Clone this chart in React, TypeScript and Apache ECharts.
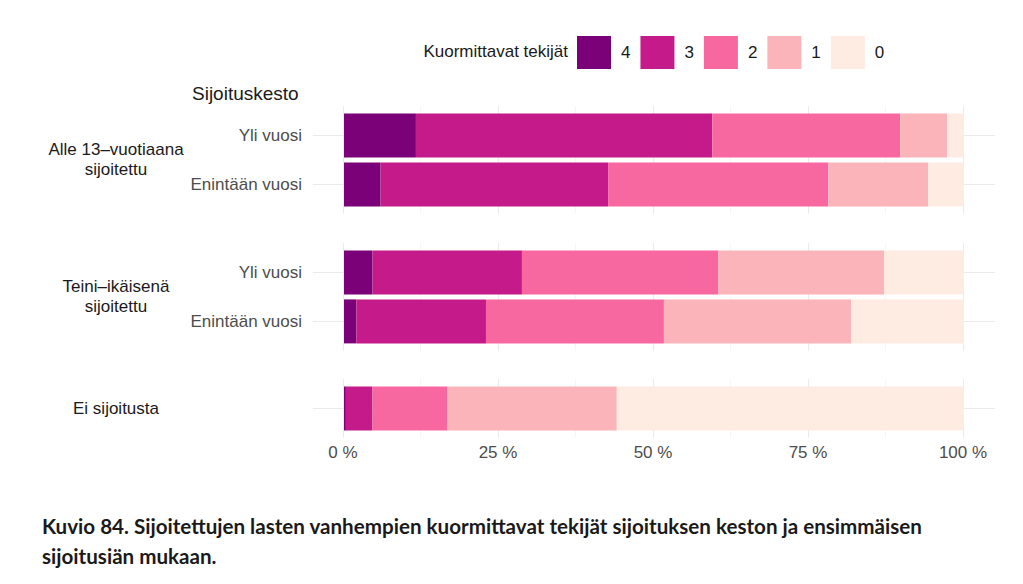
import React, { useEffect, useRef } from "react";
import * as echarts from "echarts";

// ---- data ----
const levels = ["4", "3", "2", "1", "0"];
const levelColors = ["#7a0177", "#c51b8a", "#f768a1", "#fbb4b9", "#feebe2"];
const groupLabels = ["Alle 13–vuotiaana\nsijoitettu", "Teini–ikäisenä\nsijoitettu", "Ei sijoitusta"];
const durations = ["Yli vuosi", "Enintään vuosi"];
// rows: [Alle13 Yli, Alle13 Enintään, Teini Yli, Teini Enintään, Ei sijoitusta]
const level4 = [11.6, 5.9, 4.6, 2.0, 0.3];
const level3 = [47.8, 36.7, 24.1, 20.9, 4.3];
const level2 = [30.3, 35.5, 31.7, 28.7, 12.1];
const level1 = [7.6, 16.1, 26.7, 30.2, 27.3];
const level0 = [2.7, 5.8, 12.9, 18.2, 56.0];
const xTicks = [0, 25, 50, 75, 100];
const legendTitle = "Kuormittavat tekijät";
const yTitle = "Sijoituskesto";
const caption =
  "Kuvio 84. Sijoitettujen lasten vanhempien kuormittavat tekijät sijoituksen keston ja ensimmäisen\nsijoitusiän mukaan.";

const levelValues = [level4, level3, level2, level1, level0];
// facet definition: rows of each facet
const facetRows = [[0, 1], [2, 3], [4]];
const facetCats = [durations, durations, ["Ei sijoitusta"]];

const FONT = "'Liberation Sans', Arial, Helvetica, sans-serif";
const FS = 17;

export default function App() {
  const ref = useRef<HTMLDivElement>(null);
  useEffect(() => {
    if (!ref.current) return;
    const chart = echarts.init(ref.current, null, { renderer: "svg" });

    const unit = 49;
    const panelTops = [106, 243, 379];
    const plotLeft = 343;
    const plotWidth = 620;

    const grids: any[] = [];
    const xAxes: any[] = [];
    const yAxes: any[] = [];
    const series: any[] = [];

    // panel grids (vertical grid lines)
    facetRows.forEach((rows, f) => {
      const h = (rows.length - 1 + 1.2) * unit;
      grids.push({ left: plotLeft, width: plotWidth, top: panelTops[f], height: h, containLabel: false });
      xAxes.push({
        type: "value",
        gridIndex: f,
        min: 0,
        max: 100,
        interval: 25,
        axisLine: { show: false },
        axisTick: { show: false },
        splitLine: { show: true, lineStyle: { color: "#ebebeb", width: 1.1 } },
        minorTick: { show: false, splitNumber: 2 },
        minorSplitLine: { show: true, lineStyle: { color: "#f2f2f2", width: 0.8 } },
        axisLabel: {
          show: f === facetRows.length - 1,
          margin: 6,
          color: "#4d4d4d",
          fontSize: FS,
          fontFamily: FONT,
          formatter: (v: number) => (xTicks.includes(v) ? `${v} %` : ""),
        },
      });
      yAxes.push({ type: "value", gridIndex: f, show: false, min: 0, max: 1 });
    });

    // bar grids
    facetRows.forEach((rows, f) => {
      const idx = facetRows.length + f;
      const top = panelTops[f] + 0.1 * unit;
      grids.push({ left: 313, right: 28, top, height: rows.length * unit, containLabel: false });
      xAxes.push({ type: "value", gridIndex: idx, min: -5, max: 105, show: false });
      yAxes.push({
        type: "category",
        gridIndex: idx,
        inverse: true,
        data: facetCats[f],
        axisLine: { show: false },
        axisTick: { show: false },
        splitLine: { show: false },
        axisLabel: {
          show: rows.length > 1,
          margin: 11,
          color: "#4d4d4d",
          fontSize: FS,
          fontFamily: FONT,
        },
      });
      levels.forEach((lv, li) => {
        series.push({
          type: "bar",
          name: lv,
          xAxisIndex: idx,
          yAxisIndex: idx,
          stack: "f" + f,
          barWidth: 44,
          itemStyle: { color: levelColors[li] },
          data: rows.map((r) => levelValues[li][r]),
          z: 2,
          markLine:
            li === 0
              ? {
                  silent: true,
                  z: 1,
                  symbol: ["none", "none"],
                  label: { show: false },
                  lineStyle: { color: "#ebebeb", width: 1.2, type: "solid" },
                  emphasis: { disabled: true },
                  data: facetCats[f].map((c) => ({ yAxis: c })),
                }
              : undefined,
        });
      });
    });

    const facetCenters = facetRows.map((rows, f) => panelTops[f] + 0.6 * unit + ((rows.length - 1) * unit) / 2);

    const option: any = {
      animation: false,
      textStyle: { fontFamily: FONT },
      grid: grids,
      xAxis: xAxes,
      yAxis: yAxes,
      series,
      legend: {
        data: levels,
        left: 577,
        top: 36,
        padding: 0,
        itemWidth: 34,
        itemHeight: 33,
        itemGap: 10,
        icon: "rect",
        selectedMode: false,
        textStyle: { fontSize: FS, color: "#1a1a1a", fontFamily: FONT, padding: [0, 0, 0, 5] },
      },
      graphic: [
        {
          type: "text",
          right: 1023 - 568,
          top: 43,
          style: { text: legendTitle, fontSize: FS, fill: "#1a1a1a", fontFamily: FONT },
        },
        {
          type: "text",
          left: 192,
          top: 84,
          style: { text: yTitle, fontSize: 19, fill: "#1a1a1a", fontFamily: FONT },
        },
        ...groupLabels.map((g, i) => ({
          type: "text",
          x: 116,
          y: facetCenters[i],
          style: {
            text: g,
            fontSize: FS,
            fill: "#1a1a1a",
            fontFamily: FONT,
            align: "center",
            verticalAlign: "middle",
            lineHeight: 20,
          },
        })),
        {
          type: "text",
          left: 42,
          top: 511,
          style: {
            text: caption,
            fontSize: 20.6,
            fontWeight: "bold",
            fill: "#1a1a1a",
            fontFamily: "Lato, 'Open Sans', sans-serif",
            lineHeight: 30,
          },
        },
      ],
    };
    chart.setOption(option);
    return () => chart.dispose();
  }, []);
  return <div ref={ref} style={{ width: 1023, height: 584, position: "absolute", left: 0, top: 0 }} />;
}
